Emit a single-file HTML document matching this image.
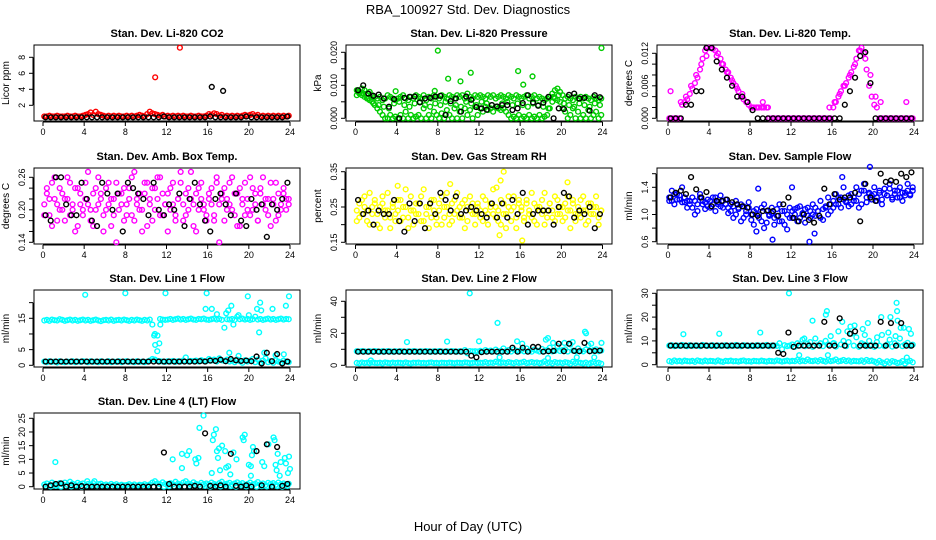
<!DOCTYPE html>
<html><head><meta charset="utf-8">
<style>
html,body{margin:0;padding:0;background:#fff;}
svg{display:block;font-family:"Liberation Sans",Arial,sans-serif;}
</style></head>
<body>
<svg id="chart" width="936" height="540" viewBox="0 0 936 540" xmlns="http://www.w3.org/2000/svg">
<text x="468" y="14" font-size="13" text-anchor="middle">RBA_100927  Std. Dev. Diagnostics</text>
<text x="468" y="531" font-size="13" text-anchor="middle">Hour of Day (UTC)</text>
</svg>
<script>
// ---------- DATA ----------
const xTicks = [0,4,8,12,16,20,24];
const panelTitles = ["Stan. Dev. Li-820 CO2","Stan. Dev. Li-820 Pressure","Stan. Dev. Li-820 Temp.","Stan. Dev. Amb. Box Temp.","Stan. Dev. Gas Stream RH","Stan. Dev. Sample Flow","Stan. Dev. Line 1 Flow","Stan. Dev. Line 2 Flow","Stan. Dev. Line 3 Flow","Stan. Dev. Line 4 (LT) Flow"];
const yTitles = ["Licor ppm","kPa","degrees C","degrees C","percent","ml/min","ml/min","ml/min","ml/min","ml/min"];
const yTickVals = [[2,4,6,8],[0,0.005,0.01,0.015,0.02],[0,0.002,0.004,0.006,0.008,0.01,0.012],[0.14,0.16,0.18,0.2,0.22,0.24,0.26],[0.15,0.2,0.25,0.3,0.35],[0.6,0.8,1.0,1.2,1.4,1.6],[0,5,10,15,20],[0,10,20,30,40],[0,5,10,15,20,25,30],[0,5,10,15,20,25]];
const yTickLabels = [["2","4","6","8"],["0.000","","0.010","","0.020"],["0.000","","","0.006","","","0.012"],["0.14","","","0.20","","","0.26"],["0.15","","0.25","","0.35"],["0.6","","1.0","","1.4",""],["0","5","","15",""],["0","","20","","40"],["0","","10","","20","","30"],["0","5","10","15","20","25"]];
const panelColors = ["#ff0000","#00cc00","#ff00ff","#ff00ff","#ffff00","#0000ff","#00ffff","#00ffff","#00ffff","#00ffff"];

const co2Main = [.6,.6,.7,.6,.6,.7,.6,.6, .6,.7,.6,.6,.7,.6,.6,.7, .8,.9,1.1,.8,1.2,.9,.8,.7, .6,.7,.6,.7,.6,.7,.6,.6, .7,.6,.7,.6,.7,.8,.7,.6, .9,1.2,1.0,.9,.8,.7,.8,.6, .7,.6,.7,.6,.7,.6,.7,.6, .6,.7,.6,.6,.7,.6,.6,.7, .9,.8,1.0,.9,.7,.8,.6,.7, .6,.7,.6,.7,.6,.7,.8,.7, .8,.9,.7,.8,.6,.7,.6,.7, .6,.7,.6,.7,.6,.7,.6,.7];
const co2OutT = [10.9,13.3]; const co2OutV = [5.5,9.2];
const co2Black = [.5,.5,.5,.5,.5,.5,.5,.5,.5,.5,.5,.5,.5,.5,.5,.5,.5,.5,.5,.5,.5,.5,.5,.6,.5,.5,.5,.5,.5,.5,.5,.5,.6,.5,.5,.5,.5,.5,.5,.6,.5,.5,.5,.5,.5,.5,.5,.6];
const co2BOutT = [16.4,17.5]; const co2BOutV = [4.3,3.8];

const presHigh = [.0085,.0080,.0090,.0085,.0075,.0080,.0070,.0065, .0060,.0065,.0055,.0060,.0070,.0065,.0060,.0055, .0060,.0065,.0070,.0060,.0055,.0065,.0060,.0070, .0065,.0060,.0070,.0055,.0065,.0060,.0070,.0065, .0060,.0070,.0065,.0060,.0070,.0065,.0060,.0070, .0065,.0070,.0060,.0075,.0065,.0060,.0070,.0065, .0070,.0065,.0060,.0070,.0065,.0070,.0060,.0065, .0070,.0065,.0060,.0070,.0065,.0060,.0070,.0065, .0060,.0065,.0070,.0060,.0065,.0070,.0060,.0065, .0060,.0055,.0060,.0065,.0075,.0085,.0090,.0080, .0070,.0060,.0065,.0060,.0055,.0065,.0060,.0065, .0060,.0065,.0060,.0055,.0065,.0060,.0055,.0060];
const presLow = [.0070,.0075,.0070,.0065,.0060,.0055,.0050,.0040, .0030,.0020,.0010,0,0,.0010,0,.0005, 0,.0010,0,.0020,0,.0010,0,.0005, .0010,0,.0030,0,.0010,0,.0020,.0010, 0,.0015,0,.0025,.0010,0,.0030,0, .0020,0,.0030,.0010,.0025,0,.0035,.0010, .0030,.0020,.0035,.0025,.0030,.0020,.0035,.0030, .0025,.0030,.0020,.0010,0,.0005,0,.0010, 0,.0005,0,.0010,0,.0005,0,.0010, 0,.0005,.0010,.0030,.0050,.0060,.0055,.0050, .0030,.0020,0,.0010,.0030,0,.0020,0, .0010,0,.0025,0,.0010,.0020,0,.0010];
const presMid = [.0080,.0075,.0060,.0045,.0040,.0035,.0030,.0045, .0050,.0040,.0035,.0045,.0050,.0040,.0035,.0045, .0040,.0050,.0045,.0040,.0035,.0050,.0045,.0040, .0050,.0045,.0040,.0035,.0045,.0050,.0040,.0045, .0040,.0035,.0045,.0040,.0035,.0030,.0065,.0070, .0045,.0040,.0035,.0045,.0040,.0035,.0045,.0040];
const presOutT = [8.0,9.0,10.2,11.2,15.8,16.3,17.2,23.9,3.9,7.7]; const presOutV = [.0205,.0120,.0112,.0138,.0143,.0102,.0127,.0213,.0082,.0083];
const presBlack = [.0085,.0100,.0075,.0068,.0072,.0060,.0035,.0058,0,.0062,.0065,.0066,.0048,.0060,.0062,.0066,.0068,.0010,.0052,.0060,.0020,.0066,.0056,.0034,.0030,.0026,.0040,.0036,.0040,.0040,.0025,.0030,.0046,.0070,.0048,.0038,.0047,.0065,0,.0030,.0028,.0071,.0075,.0060,.0062,.0023,.0070,.0064];

const tempMain = [0,0,0,0,0,.0025,.0030,.0035, .0045,.0055,.0065,.0075,.0090,.0110,.0125,.0130, .0130,.0128,.0125,.0120,.0110,.0100,.0090,.0085, .0075,.0065,.0060,.0050,.0040,.0035,.0030,.0025, .0020,.0020,.0020,.0020,.0020,.0020,.0020,0, 0,0,0,0,0,0,0,0, 0,0,0,0,0,0,0,0, 0,0,0,0,0,0,0,0, .0020,.0030,.0040,.0050,.0060,.0065,.0075,.0085, .0095,.0110,.0125,.0130,.0120,.0090,.0060,.0040, .0025,.0020,0,0,0,0,0,0, 0,0,0,0,0,0,0,0];
const tempSecond = [.0050,0,.0030,.0040,.0060,.0080,.0100,.0115, .0130,.0115,.0100,.0085,.0070,.0055,.0045,.0030, .0020,.0020,.0030,.0020,0,0,0,0, 0,0,0,0,0,0,0,.0020, .0030,.0045,.0060,.0080,.0100,.0125,.0110,.0080, .0040,.0030,0,0,0,0,.0030,0];
const tempBlack = [0,0,0,.0025,.0025,.0050,.0050,.0130,.0130,.0105,.0090,.0075,.0060,.0040,.0040,.0030,.0015,0,0,0,0,0,0,0,0,0,0,0,0,0,0,0,0,0,.0025,.0050,.0075,.0115,.0122,.0065,0,0,0,0,0,0,0,0];

const ambMain = [.21,.23,.19,.25,.22,.18,.24,.20, .22,.26,.19,.21,.24,.17,.23,.20, .25,.21,.18,.23,.20,.26,.22,.19, .24,.21,.17,.22,.25,.20,.23,.18, .21,.24,.19,.27,.22,.20,.16,.23, .25,.21,.18,.24,.22,.26,.19,.21, .23,.20,.25,.18,.22,.27,.21,.19, .24,.22,.17,.23,.20,.25,.21,.18, .22,.24,.19,.26,.21,.23,.18,.22, .25,.20,.23,.17,.24,.21,.19,.22, .26,.20,.23,.18,.24,.21,.22,.19, .25,.21,.18,.23,.20,.24,.22,.21];
const ambSecond = [.19,.24,.22,.17,.26,.21,.20,.23, .18,.22,.25,.20,.16,.24,.21,.19, .22,.27,.20,.17,.24,.21,.23,.16, .20,.25,.22,.19,.14,.23,.21,.24, .19,.22,.26,.18,.21,.23,.20,.25, .17,.22,.24,.20,.26,.19,.23,.21, .16,.24,.21,.19,.22,.25,.18,.23, .20,.27,.21,.16,.24,.22,.20,.19, .23,.21,.18,.25,.14,.22,.24,.20, .21,.26,.19,.23,.17,.22,.25,.20, .19,.24,.21,.18,.23,.26,.20,.22, .17,.22,.25,.19,.21,.23,.20,.22];
const ambBlack = [.19,.18,.26,.26,.21,.19,.19,.25,.22,.18,.17,.25,.23,.20,.23,.16,.25,.24,.23,.22,.19,.25,.20,.19,.21,.20,.23,.17,.22,.25,.21,.18,.16,.22,.23,.21,.19,.23,.18,.17,.22,.20,.21,.15,.21,.20,.22,.25];

const rhMain = [.24,.22,.27,.25,.21,.29,.23,.26, .20,.25,.28,.22,.24,.19,.26,.23, .27,.21,.25,.30,.22,.24,.20,.26, .23,.28,.21,.25,.19,.27,.24,.22, .26,.20,.25,.29,.23,.21,.27,.24, .22,.26,.19,.25,.28,.23,.20,.26, .24,.21,.27,.23,.25,.30,.22,.24, .20,.26,.23,.28,.21,.25,.19,.27, .24,.22,.26,.23,.29,.21,.25,.24, .27,.20,.24,.26,.22,.28,.23,.25, .21,.26,.24,.19,.27,.23,.25,.22, .28,.24,.21,.26,.23,.25,.20,.24];
const rhSecond = [.21,.26,.23,.28,.24,.20,.25,.27, .23,.19,.26,.24,.29,.22,.25,.21, .24,.27,.22,.25,.19,.28,.24,.23, .26,.21,.30,.23,.25,.22,.27,.20, .24,.28,.22,.25,.20,.26,.23,.29, .25,.22,.27,.21,.24,.26,.23,.25, .22,.28,.24,.20,.26,.23,.25,.21, .27,.23,.19,.25,.24,.28,.22,.26, .25,.21,.27,.24,.22,.26,.20,.25, .23,.29,.22,.26,.24,.21,.27,.23, .25,.22,.28,.24,.26,.21,.23,.27, .24,.20,.26,.23,.25,.28,.22,.24];
const rhOutT = [14.4,14.1,16.2,20.6,9.2,13.7,14.0,4.1]; const rhOutV = [.35,.325,.155,.32,.315,.305,.17,.31];
const rhBlack = [.27,.23,.24,.20,.24,.23,.23,.27,.21,.18,.26,.21,.26,.19,.26,.23,.29,.27,.24,.28,.23,.24,.25,.24,.23,.22,.26,.22,.26,.22,.27,.23,.29,.20,.23,.24,.24,.24,.20,.25,.29,.28,.22,.24,.23,.25,.19,.23];

const flowMain = [1.25,1.20,1.30,1.22,1.28,1.18,1.25,1.20, 1.15,1.10,1.20,1.05,1.25,1.15,1.18,1.12, 1.20,1.15,1.25,1.18,1.12,1.20,1.15,1.10, 1.05,1.12,1.00,1.08,1.15,0.95,1.05,1.10, 1.00,0.85,1.08,0.95,1.10,0.80,1.05,1.00, 1.02,0.95,1.08,0.90,1.05,0.85,1.00,0.95, 1.05,1.00,1.10,0.95,1.02,1.08,0.98,1.05, 1.00,1.10,1.05,0.95,1.08,1.12,1.00,1.15, 1.20,1.15,1.25,1.10,1.22,1.18,1.28,1.15, 1.25,1.20,1.30,1.15,1.35,1.25,1.32,1.28, 1.30,1.25,1.35,1.22,1.30,1.28,1.38,1.25, 1.30,1.35,1.25,1.32,1.28,1.35,1.30,1.40];
const flowSecond = [1.20,1.35,1.15,1.30,1.22,1.40,1.18,1.10, 1.20,1.25,1.00,1.15,1.30,1.20,1.08,1.22, 1.10,1.25,1.05,1.15,1.28,1.10,1.22,1.02, 1.15,0.95,1.20,1.10,0.90,1.12,1.00,1.18, 0.92,1.05,0.75,1.00,0.90,1.15,0.88,0.98, 1.10,0.85,0.98,1.15,0.90,1.05,0.78,1.10, 0.95,1.08,0.90,1.12,1.00,0.88,1.10,0.95, 1.15,0.98,1.05,1.20,0.92,1.10,1.25,1.05, 1.10,1.30,1.15,1.25,1.40,1.20,1.12,1.30, 1.20,1.40,1.10,1.35,1.45,1.18,1.30,1.22, 1.40,1.20,1.32,1.15,1.38,1.28,1.45,1.22, 1.35,1.25,1.40,1.20,1.32,1.45,1.28,1.35];
const flowOutT = [10.2,13.8,19.7,17.0,12.1,8.8,14.3]; const flowOutV = [0.63,0.60,1.70,1.55,1.40,1.38,0.72];
const flowBlack = [1.25,1.32,1.35,1.30,1.55,1.37,1.25,1.33,1.12,1.20,1.20,1.22,1.18,1.15,1.12,1.10,1.00,0.98,1.05,1.06,1.05,0.98,1.15,1.25,0.95,0.90,1.00,0.92,0.88,0.98,1.38,1.15,1.30,1.22,1.25,1.25,1.32,0.90,1.45,1.25,1.20,1.60,1.48,1.50,1.48,1.60,1.55,1.62];

const l1High = [14.3,14.5,14.2,14.6,14.4,14.3,14.7,14.5, 14.2,14.4,14.6,14.3,14.5,14.2,14.4,14.6, 14.3,14.5,14.2,14.4,14.6,14.3,14.1,14.4, 14.5,14.3,14.6,14.2,14.4,14.5,14.3,14.6, 14.4,14.2,14.5,14.3,14.6,14.4,14.2,14.5, 14.3,14.6,13.0,10.0,9.5,14.8,14.6,14.5, 14.6,14.8,14.5,14.7,14.9,14.6,14.8,14.5, 14.7,14.9,14.6,14.5,14.8,14.7,14.9,14.6, 14.5,14.7,14.9,14.6,14.8,14.5,12.0,14.7, 14.6,14.8,14.5,15.5,14.7,14.9,14.6,14.8, 14.5,14.7,15.5,14.6,14.8,14.5,14.7,14.9, 14.6,14.8,14.5,14.7,14.9,14.6,14.8,14.7];
const l1Low = [1.2,1.0,1.3,1.1,1.2,0.9,1.3,1.1, 1.0,1.2,1.1,1.3,1.0,1.2,1.1,1.3, 1.2,1.0,1.3,1.1,1.2,1.0,1.3,1.1, 1.1,1.3,1.0,1.2,1.1,1.3,1.0,1.2, 1.3,1.1,1.2,1.0,1.3,1.1,1.2,1.0, 1.2,1.5,2.0,1.8,1.4,1.3,1.2,1.1, 1.3,1.2,1.4,1.1,1.3,1.2,1.5,2.5, 1.2,1.4,1.3,1.5,1.2,1.6,1.4,1.3, 2.0,1.5,1.8,1.2,2.2,1.6,1.4,1.8, 1.2,1.5,1.0,1.8,1.3,0.8,1.6,1.2, 1.5,2.0,1.0,1.8,0.8,1.5,2.2,1.0, 1.4,0.8,1.6,1.2,0.9,1.5,1.2,1.0];
const l1OutT = [4.1,8.0,11.9,15.9,19.9,23.9,10.9,11.1,11.3,10.8,11.4,15.8,16.4,18.0,18.3,21.0,20.8,21.1,21.2,22.3,23.6,16.9,17.8,18.5,19.0,20.0,18.1,19.0,21.5,22.6,23.4];
const l1OutV = [22.5,23,23,23,22,22,6.5,4.5,7,9.5,13,18,18,17.5,19,10.5,18,20,17.5,18,19,16.3,16.6,13,16,16,4,3,4,3.2,3.5];
const l1Black = [1.2,1.2,1.2,1.2,1.2,1.2,1.2,1.2,1.2,1.2,1.2,1.2,1.2,1.2,1.2,1.2,1.2,1.2,1.2,1.2,1.2,1.2,1.2,1.2,1.2,1.2,1.2,1.2,1.2,1.2,1.3,1.2,1.5,1.4,1.8,1.3,2.0,1.6,1.4,1.5,1.3,2.8,0.6,4.0,1.3,3.6,0.6,1.2];

const l2High = [8.8,8.6,8.9,8.7,8.5,8.8,8.6,8.9, 8.7,8.5,8.8,8.6,8.9,8.7,8.5,8.8, 8.6,8.9,8.7,8.5,8.8,8.6,8.9,8.7, 8.5,8.8,8.6,8.9,8.7,8.5,8.8,8.6, 8.9,8.7,8.5,8.8,8.6,8.9,8.7,8.5, 8.8,8.6,9.5,7.5,8.9,8.7,8.8,8.6, 9.0,8.5,9.5,8.8,9.2,8.6,9.8,8.7, 9.0,10.5,8.8,9.5,8.6,10.0,9.2,8.8, 9.5,8.7,10.5,9.0,8.5,9.8,9.2,8.6, 10.2,8.8,9.5,11.0,8.7,9.0,12.0,8.9, 9.5,10.0,8.6,13.0,9.2,8.8,10.5,9.0, 8.7,9.8,12.5,8.9,9.5,10.0,8.8,9.2];
const l2Low = [1.5,1.2,1.8,1.4,1.6,1.3,1.7,1.5, 1.4,1.6,1.2,1.8,1.5,1.3,1.7,1.4, 1.6,1.5,1.3,1.8,1.4,1.2,1.6,1.5, 1.7,1.4,1.5,1.3,1.6,1.8,1.4,1.5, 1.3,1.6,1.5,1.4,1.7,1.5,1.3,1.6, 1.5,1.4,1.8,1.6,1.3,1.5,1.7,1.4, 1.6,1.5,2.0,1.4,1.7,1.5,2.2,1.6, 1.5,1.8,1.4,2.0,1.6,1.3,1.9,1.5, 1.7,2.2,1.4,1.6,2.0,1.5,1.8,1.3, 1.6,2.5,1.4,1.8,1.2,2.0,1.5,1.7, 1.3,1.9,1.6,1.0,2.2,1.4,1.8,1.5, 1.2,1.7,0.9,1.5,2.0,1.3,1.6,1.0];
const l2OutT = [5.0,8.9,11.1,12.0,13.8,15.7,16.2,18.5,18.7,19.2,20.3,22.3,22.4,23.9,22.9,21.1,14.0,21.5,23.2,18.7,1.5];
const l2OutV = [14.5,14.8,45,15,26.5,15,13.5,16,17,14,14,21,20,14,13.5,14.5,5,5,5,4.5,3];
const l2Black = [8.5,8.5,8.5,8.5,8.5,8.5,8.5,8.5,8.5,8.5,8.5,8.5,8.5,8.5,8.5,8.5,8.5,8.5,8.5,8.5,8.5,8.5,6.0,5.0,8.2,8.5,8.5,8.5,8.5,8.5,11.0,8.5,11.0,8.5,11.5,11.5,8.5,8.8,9.0,13.5,8.8,13.5,9.0,8.8,14.0,8.8,9.0,9.2];

const l3High = [8.0,8.2,7.8,8.1,7.9,8.3,8.0,7.8, 8.2,7.9,8.1,8.0,7.8,8.3,8.1,7.9, 8.0,8.2,7.8,8.1,7.9,8.0,8.2,7.8, 8.1,7.9,8.3,8.0,7.8,8.2,8.1,7.9, 8.0,7.8,8.2,8.1,7.9,8.0,8.3,7.8, 8.1,8.0,7.9,9.0,6.5,8.2,7.8,8.0, 8.5,7.5,9.0,8.0,10.5,7.8,8.8,9.5, 7.5,11.0,8.2,9.0,7.8,10.0,8.5,12.0, 9.0,7.6,14.0,8.5,10.0,7.8,9.5,13.0, 8.0,11.5,7.5,9.0,8.5,7.8,10.0,8.2, 7.5,9.5,8.0,12.5,7.8,8.5,10.5,7.6, 9.0,8.2,11.0,7.8,8.5,9.2,7.9,8.4];
const l3Low = [1.5,1.2,1.8,1.4,1.6,1.3,1.7,1.5, 1.4,1.6,1.2,1.8,1.5,1.3,1.7,1.4, 1.6,1.5,1.3,1.8,1.4,1.2,1.6,1.5, 1.7,1.4,1.5,1.3,1.6,1.8,1.4,1.5, 1.3,1.6,1.5,1.4,1.7,1.5,1.3,1.6, 1.5,1.4,1.8,1.6,1.3,1.5,1.7,1.4, 1.6,1.5,2.0,1.4,1.7,1.5,2.2,1.6, 1.5,1.8,1.4,2.0,1.6,1.3,1.9,1.5, 1.7,2.2,1.4,1.6,2.0,1.5,1.8,1.3, 1.6,1.5,1.4,1.8,1.2,2.0,1.5,1.7, 1.3,0.8,1.6,1.0,0.5,1.4,0.8,1.5, 1.2,0.7,0.9,1.5,0.5,1.3,1.6,1.0];
const l3OutT = [1.5,5.0,9.0,11.8,14.1,15.4,15.5,13.3,15.6,16.2,17.5,17.8,18.2,19.0,20.8,21.5,22.4,22.7,23.0,23.7,23.5,19.2,19.5,20.4,21.7,22.2,22.3,22.35,17.0,23.3,12.8];
const l3OutV = [12.8,13,13.5,30,18.5,21,22.5,11,4,9,14,16,16.5,15,20,13.5,18.5,15.5,15.5,13,15,12.5,17.5,11.5,20,12,26,22.5,18,3,4];
const l3Black = [8,8,8,8,8,8,8,8,8,8,8,8,8,8,8,8,8,8,8,8,8,5.0,4.5,13.5,7.5,8,8,8,8,8,18,8,8,19.5,8,13,14,8,8,8,8,18,8,17.5,8,17.5,8,8];

const l4Band = [0.8,1.2,0.5,1.5,1.0,0.6,1.3,0.9, 1.5,0.7,1.8,1.1,0.6,1.4,0.9,1.2, 0.5,1.0,0.7,1.3,0.4,0.9,1.1,0.6, 0.8,0.5,1.0,0.6,0.9,0.4,0.7,0.5, 0.6,0.9,0.5,0.8,0.4,0.7,0.6,0.9, 0.5,0.8,1.5,2.0,1.2,0.9,1.6,1.0, 0.8,1.3,0.9,1.8,1.1,0.7,1.5,2.0, 1.2,0.8,1.6,1.0,0.7,1.4,0.9,1.2, 0.8,1.5,1.0,0.6,1.3,1.8,0.9,1.1, 1.4,0.7,1.2,1.6,0.9,1.3,0.6,1.0, 1.5,0.8,1.1,1.7,0.9,1.2,0.6,1.4, 1.0,1.3,0.7,1.5,0.9,1.2,0.8,1.1];
const l4Zero = [0.2,0.1,0.3,0,0.2,0.1,0.4,0, 0.1,0.3,0,0.2,0.1,0,0.2,0.1, 0,0.1,0.2,0,0.1,0,0.1,0, 0.2,0.1,0.3,0,0.2,0.4,0.1,0.3, 0,0.2,0.1,0.3,0.2,0,0.4,0.1, 0.3,0,0.2,0.1,0.4,0.2,0,0.3];
const l4OutT = [1.2,4.3,5.0,12.6,13.5,13.5,14.2,14.8,14.9,15.1,15.2,15.6,16.4,16.5,16.6,16.8,16.9,17.1,17.0,17.2,17.4,17.7,17.8,18.0,18.2,18.5,18.8,19.4,19.6,19.5,20.0,20.2,20.2,20.5,20.3,20.4,21.3,21.5,21.9,22.4,22.5,22.6,22.7,22.8,23.5,23.6,23.8,23.9,24.0,23.0,23.1,14.0];
const l4OutV = [9,2,2,10,12,6.8,13,10,8.5,10.5,21.5,26,5,17,19,21,13,14,10.5,6,15,13,7,7.5,4.5,12.5,10,18,19,17,8,7.5,4,13,11.5,14.5,9,7.5,15.5,18,17,8,6,12,10.5,8.5,5,11,6.5,4,9,11.5];
const l4Black = [0,0.5,1.0,1.2,0,0.5,0,0.2,0,0,0,0,0,0,0,0,0,0,0,0,0,0,0,12.5,1.0,0,0,0,0,0.3,0,19.5,0.3,0,0.5,0,12,0.3,0,0.5,0,13,0.5,15.5,0,14.5,0.3,1.0];

// series per panel: [values, color] (times implicit: evenly spaced over 0-24h) and outliers [t,v,color]
const panelSeries = [
  [[co2Main,0]],[[presHigh,0],[presLow,0],[presMid,0]],[[tempMain,0],[tempSecond,0]],
  [[ambMain,0],[ambSecond,0]],[[rhMain,0],[rhSecond,0]],[[flowMain,0],[flowSecond,0]],
  [[l1High,0],[l1Low,0]],[[l2High,0],[l2Low,0]],[[l3High,0],[l3Low,0]],[[l4Band,0],[l4Zero,0]]
];
const panelOutT = [co2OutT,presOutT,[],[],rhOutT,flowOutT,l1OutT,l2OutT,l3OutT,l4OutT];
const panelOutV = [co2OutV,presOutV,[],[],rhOutV,flowOutV,l1OutV,l2OutV,l3OutV,l4OutV];
const panelBlack = [co2Black,presBlack,tempBlack,ambBlack,rhBlack,flowBlack,l1Black,l2Black,l3Black,l4Black];
const panelBOutT = [co2BOutT,[],[],[],[],[],[],[],[],[]];
const panelBOutV = [co2BOutV,[],[],[],[],[],[],[],[],[]];

// ---------- LAYOUT ----------
const colLeft=[34,346,657], colRight=[300,612,923];
const colX0=[43,355.5,668], colX24=[290,602.5,914];
const rowTop=[45,168,290,413], rowBot=[121,244,367,489];
const yCal=[[2,105.3,8,57.3],[0,118.3,0.02,52.3],[0,118.3,0.012,53.3],[0.14,242.3,0.26,177.3],[0.15,242.3,0.35,171.7],[0.6,241.7,1.4,187.3],[0,365.3,15,318.3],[0,365.3,40,301.3],[0,364.7,30,293.3],[0,486.7,25,418.3]];

const svg=document.getElementById('chart');
const NS='http://www.w3.org/2000/svg';
function mk(tag,attrs,parent){const e=document.createElementNS(NS,tag);for(const k in attrs)e.setAttribute(k,attrs[k]);(parent||svg).appendChild(e);return e;}

for(let p=0;p<10;p++){
  const col=p%3,row=Math.floor(p/3);
  const L=colLeft[col],R=colRight[col],T=rowTop[row],B=rowBot[row];
  const xs=t=>colX0[col]+(colX24[col]-colX0[col])*t/24;
  const c=yCal[p];
  const ys=v=>c[1]+(v-c[0])*(c[3]-c[1])/(c[2]-c[0]);
  const g=mk('g',{});
  
  
  const title=mk('text',{x:(L+R)/2,y:T-8,'font-size':'11','font-weight':'bold','text-anchor':'middle'},g);
  title.textContent=panelTitles[p];
  
  
  const yt=mk('text',{x:L-25,y:(T+B)/2,'font-size':'10','text-anchor':'middle',transform:`rotate(-90 ${L-25} ${(T+B)/2})`},g);
  yt.textContent=yTitles[p];
  
  
  // x axis
  const xa=mk('g',{},g);
  
  
  mk('line',{x1:xs(0),x2:xs(24),y1:B+1,y2:B+1,stroke:'#000','stroke-width':1},xa);
  xTicks.forEach(t=>{
    mk('line',{x1:xs(t),x2:xs(t),y1:B+1,y2:B+5,stroke:'#000','stroke-width':1},xa);
    const tl=mk('text',{x:xs(t),y:B+14,'font-size':'9','text-anchor':'middle'},xa);
    tl.textContent=t;
    
    
  });
  // y axis
  const ya=mk('g',{},g);
  
  
  const tv=yTickVals[p];
  mk('line',{x1:L-1,x2:L-1,y1:ys(tv[0]),y2:ys(tv[tv.length-1]),stroke:'#000','stroke-width':1},ya);
  tv.forEach((v,i)=>{
    const y=ys(v);
    mk('line',{x1:L-5,x2:L-1,y1:y,y2:y,stroke:'#000','stroke-width':1},ya);
    if(yTickLabels[p][i]){
      const tl=mk('text',{x:L-9,y:y,'font-size':'9','text-anchor':'middle',transform:`rotate(-90 ${L-9} ${y})`},ya);
      tl.textContent=yTickLabels[p][i];
      
      
    }
  });
  // box
  const box=mk('rect',{x:L,y:T,width:R-L,height:B-T,fill:'none',stroke:'#000','stroke-width':1},g);
  
  
  const pts=mk('g',{fill:'none','stroke-width':'1.4'},g);
  
  
  const col_=panelColors[p];
  function dot(t,v,color){
    const e=mk('circle',{cx:xs(t),cy:ys(v),r:2.4,stroke:color},pts);
    
    
  }
  panelSeries[p].forEach(s=>{const arr=s[0];const n=arr.length;arr.forEach((v,i)=>dot((i+0.5)*24/n,v,col_));});
  panelOutT[p].forEach((t,i)=>dot(t,panelOutV[p][i],col_));
  const bk=panelBlack[p];
  bk.forEach((v,i)=>dot((i+0.5)*24/bk.length,v,'#000'));
  panelBOutT[p].forEach((t,i)=>dot(t,panelBOutV[p][i],'#000'));
}
</script>
</body></html>
